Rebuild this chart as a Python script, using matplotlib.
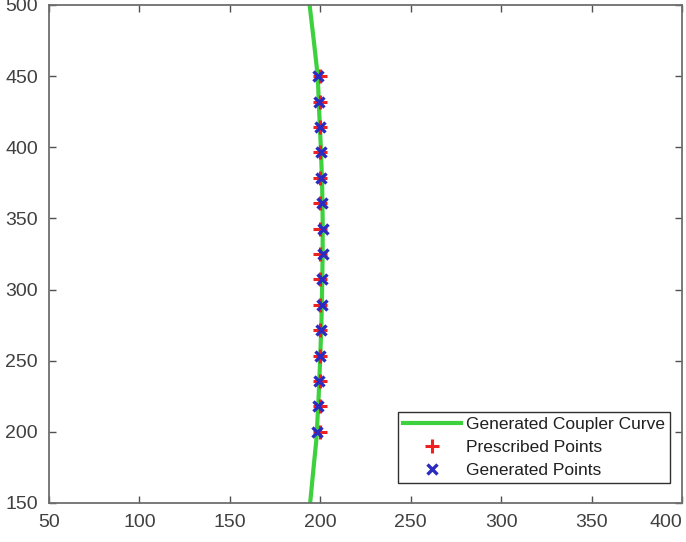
import matplotlib
matplotlib.use("Agg")
import matplotlib.pyplot as plt

plt.rcParams['font.family'] = ['Liberation Sans', 'DejaVu Sans']

# Coupler curve samples (x, y)
curve_y = [150, 175, 194, 200, 225, 250, 275, 300, 325, 350, 375, 400, 425, 450, 475, 500]
curve_x = [194.4, 196.3, 197.8, 198.1, 199.1, 199.9, 200.6, 201.0, 201.3, 201.3, 201.0, 200.3, 199.4, 198.6, 196.4, 194.1]

# Prescribed precision points
pres_x = [200, 200, 200, 200, 200, 200, 200, 200, 200, 200, 200, 200, 200, 200, 200]
pres_y = [200.0, 217.9, 235.7, 253.6, 271.4, 289.3, 307.1, 325.0, 342.9, 360.7, 378.6, 396.4, 414.3, 432.1, 450.0]

# Points produced by the synthesized linkage
gen_x = [198.2, 198.8, 199.4, 199.9, 200.4, 200.8, 201.0, 201.3, 201.4, 201.2, 200.6, 200.2, 199.6, 199.1, 198.8]
gen_y = [200.0, 217.9, 235.7, 253.6, 271.4, 289.3, 307.1, 325.0, 342.9, 360.7, 378.6, 396.4, 414.3, 432.1, 450.0]

x_ticks = [50, 100, 150, 200, 250, 300, 350, 400]
y_ticks = [150, 200, 250, 300, 350, 400, 450, 500]

fig = plt.figure(figsize=(6.86, 5.42), dpi=100)
ax = fig.add_axes([0.0714, 0.072, 0.9228, 0.9188])

ax.plot(curve_x, curve_y, color='#3dd13d', lw=3, label='Generated Coupler Curve', zorder=2)
ax.plot(pres_x, pres_y, ls='none', marker='+', color='#ee2020', ms=10, mew=2.2,
        label='Prescribed Points', zorder=3)
ax.plot(gen_x, gen_y, ls='none', marker='x', color='#2b2bc0', ms=7.5, mew=2.4,
        label='Generated Points', zorder=4)

ax.set_xlim(50, 400)
ax.set_ylim(150, 500)
ax.set_xticks(x_ticks)
ax.set_yticks(y_ticks)

ax.tick_params(direction='in', length=5, width=1, color='#505050',
               labelsize=14, labelcolor='#404040', top=True, right=True, pad=8)
# keep the last x label inside the figure edge
ax.get_xticklabels()[-1].set_horizontalalignment('right')
for s in ax.spines.values():
    s.set_color('#6e6e6e')
    s.set_linewidth(1.3)

leg = ax.legend(loc='lower right', fontsize=12.5, frameon=True, fancybox=False,
                edgecolor='#303030', framealpha=1, handlelength=3.3,
                handletextpad=0.3, borderpad=0.3, labelspacing=0.45,
                borderaxespad=0, bbox_to_anchor=(0.981, 0.040))
leg.get_frame().set_linewidth(1.0)
for t in leg.get_texts():
    t.set_color('#202020')

fig.savefig('out.png', dpi=100)
